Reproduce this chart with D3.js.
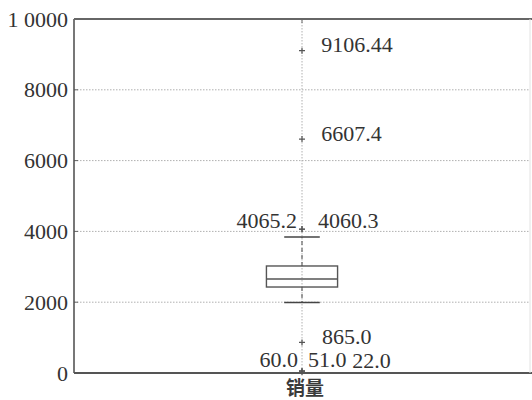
<!DOCTYPE html>
<html>
<head>
<meta charset="utf-8">
<script src="https://cdn.jsdelivr.net/npm/d3@7"></script>
<style>
  html, body { margin: 0; padding: 0; background: #fff; }
  svg { display: block; }
</style>
</head>
<body>
<svg id="chart" width="532" height="400"></svg>
<script>
// Sales box plot with annotated outliers
const categories = ["销量"];
const quartiles = [2429, 2655, 3023];          // Q1, median, Q3
const whiskers = [1990, 3842];                 // lower, upper whisker ends
const outliers = [22.0, 51.0, 60.0, 865.0, 4060.3, 4065.2, 6607.4, 9106.44];
const outlierLabels = ["22.0", "51.0", "60.0", "865.0", "4060.3", "4065.2", "6607.4", "9106.44"];
const yTicks = [0, 2000, 4000, 6000, 8000, 10000];
const yTickLabels = ["0", "2000", "4000", "6000", "8000", "1 0000"];

// label placement next to each outlier: [x offset in category units, anchor, y shift px]
const labelPlacement = [
  [0.11, "start", -4],
  [0.013, "start", -4],
  [-0.009, "end", -4],
  [0.044, "start", 1.5],
  [0.035, "start", -1],
  [-0.011, "end", -1],
  [0.042, "start", 1.5],
  [0.042, "start", 1.5]
];

const svg = d3.select("#chart");
const plotLeft = 74, plotRight = 530, plotTop = 19, plotBottom = 373;

const x = d3.scaleLinear().domain([0.5, 1.5]).range([plotLeft, plotRight]);
const y = d3.scaleLinear().domain([0, 10000]).range([plotBottom, plotTop]);

const textColor = "#333";
const serif = "'Liberation Serif', 'DejaVu Serif', serif";

// horizontal grid
svg.append("g")
  .selectAll("line")
  .data(yTicks.filter(t => t > 0 && t < 10000))
  .join("line")
  .attr("x1", plotLeft).attr("x2", plotRight)
  .attr("y1", d => y(d)).attr("y2", d => y(d))
  .attr("stroke", "#b0b0b0")
  .attr("stroke-width", 1)
  .attr("stroke-dasharray", "1.5,1.5");

// vertical grid at the category
svg.append("g")
  .selectAll("line")
  .data(categories)
  .join("line")
  .attr("x1", (d, i) => x(i + 1)).attr("x2", (d, i) => x(i + 1))
  .attr("y1", plotTop).attr("y2", plotBottom)
  .attr("stroke", "#b0b0b0")
  .attr("stroke-width", 1)
  .attr("stroke-dasharray", "1.5,1.5");

// y axis with labels
const yAxis = d3.axisLeft(y)
  .tickValues(yTicks)
  .tickFormat((d, i) => yTickLabels[i])
  .tickSize(0)
  .tickPadding(6);

const yg = svg.append("g")
  .attr("transform", `translate(${plotLeft},0)`)
  .call(yAxis);
yg.select(".domain").remove();
yg.selectAll("text")
  .attr("fill", textColor)
  .style("font-family", serif)
  .style("font-size", "22px");

// inward tick marks
svg.append("g")
  .selectAll("line")
  .data(yTicks)
  .join("line")
  .attr("x1", plotLeft).attr("x2", plotLeft + 4)
  .attr("y1", d => y(d)).attr("y2", d => y(d))
  .attr("stroke", "#666").attr("stroke-width", 1);

// box plot
const cx = x(1);
const boxHalf = 0.078;
const capHalf = boxHalf / 2;
const g = svg.append("g");

// whiskers (dashed)
g.append("line")
  .attr("x1", cx).attr("x2", cx)
  .attr("y1", y(quartiles[2])).attr("y2", y(whiskers[1]))
  .attr("stroke", "#666").attr("stroke-width", 1.2)
  .attr("stroke-dasharray", "4,3");
g.append("line")
  .attr("x1", cx).attr("x2", cx)
  .attr("y1", y(quartiles[0])).attr("y2", y(whiskers[0]))
  .attr("stroke", "#666").attr("stroke-width", 1.2)
  .attr("stroke-dasharray", "4,3");

// caps
g.selectAll(".cap")
  .data(whiskers)
  .join("line")
  .attr("class", "cap")
  .attr("x1", x(1 - capHalf)).attr("x2", x(1 + capHalf))
  .attr("y1", d => y(d)).attr("y2", d => y(d))
  .attr("stroke", "#444").attr("stroke-width", 1.6);

// box
g.append("rect")
  .attr("x", x(1 - boxHalf))
  .attr("y", y(quartiles[2]))
  .attr("width", x(1 + boxHalf) - x(1 - boxHalf))
  .attr("height", y(quartiles[0]) - y(quartiles[2]))
  .attr("fill", "none")
  .attr("stroke", "#555").attr("stroke-width", 1.4);

// median
g.append("line")
  .attr("x1", x(1 - boxHalf)).attr("x2", x(1 + boxHalf))
  .attr("y1", y(quartiles[1])).attr("y2", y(quartiles[1]))
  .attr("stroke", "#555").attr("stroke-width", 1.4);

// outlier markers (plus signs)
const plusSize = 3;
g.selectAll(".flier")
  .data(outliers)
  .join("path")
  .attr("class", "flier")
  .attr("d", `M${-plusSize},0H${plusSize}M0,${-plusSize}V${plusSize}`)
  .attr("transform", d => `translate(${cx},${y(d)})`)
  .attr("fill", "none")
  .attr("stroke", "#555").attr("stroke-width", 1.2);

// outlier annotations
svg.append("g")
  .selectAll("text")
  .data(outliers)
  .join("text")
  .attr("x", (d, i) => x(1 + labelPlacement[i][0]))
  .attr("y", (d, i) => y(d) + labelPlacement[i][2])
  .attr("text-anchor", (d, i) => labelPlacement[i][1])
  .attr("fill", textColor)
  .style("font-family", serif)
  .style("font-size", "22px")
  .text((d, i) => outlierLabels[i]);

// spines
svg.append("line")
  .attr("x1", plotLeft).attr("x2", plotLeft).attr("y1", plotTop).attr("y2", plotBottom)
  .attr("stroke", "#555").attr("stroke-width", 1.6);
svg.append("line")
  .attr("x1", plotLeft).attr("x2", 532).attr("y1", plotTop).attr("y2", plotTop)
  .attr("stroke", "#666").attr("stroke-width", 2);
svg.append("line")
  .attr("x1", plotLeft).attr("x2", 532).attr("y1", plotBottom).attr("y2", plotBottom)
  .attr("stroke", "#555").attr("stroke-width", 2);
svg.append("line")
  .attr("x1", plotRight).attr("x2", plotRight).attr("y1", plotTop).attr("y2", plotBottom)
  .attr("stroke", "#e2e2e2").attr("stroke-width", 1);

// top tick at the category
svg.append("line")
  .attr("x1", cx).attr("x2", cx).attr("y1", plotTop).attr("y2", plotTop + 4)
  .attr("stroke", "#666").attr("stroke-width", 1);

// category label
svg.append("g")
  .selectAll("text")
  .data(categories)
  .join("text")
  .attr("x", (d, i) => x(i + 1) + 3)
  .attr("y", 395)
  .attr("text-anchor", "middle")
  .attr("fill", "#3a3a3a")
  .style("font-family", "'Noto Sans CJK SC', sans-serif")
  .style("font-size", "19px")
  .style("font-weight", "bold")
  .text(d => d);
</script>
</body>
</html>
